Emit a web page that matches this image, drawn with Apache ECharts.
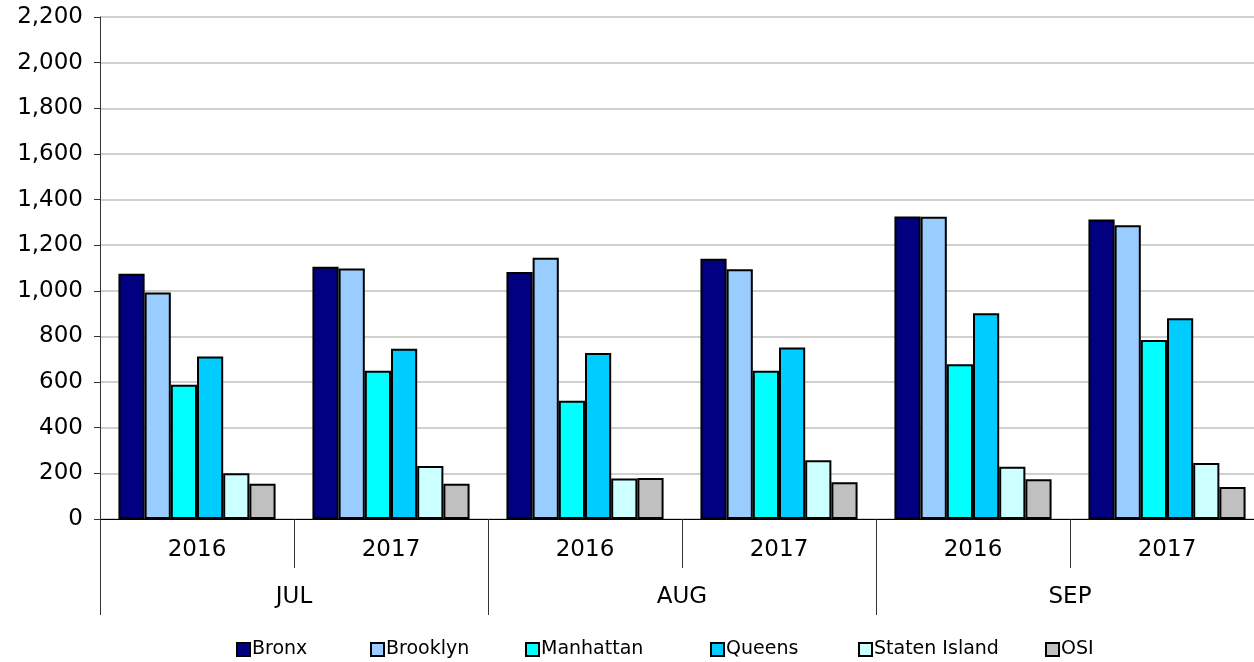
<!DOCTYPE html>
<html>
<head>
<meta charset="utf-8">
<script src="https://cdn.jsdelivr.net/npm/echarts@6/dist/echarts.min.js"></script>
<style>
html,body{margin:0;padding:0;background:#fff;overflow:hidden;width:1254px;height:662px;}
#chart{width:1264px;height:662px;}
</style>
</head>
<body>
<div id="chart"></div>
<script>
const years = ['2016', '2017', '2016', '2017', '2016', '2017'];
const months = ['JUL', 'AUG', 'SEP'];
const yTicks = [0, 200, 400, 600, 800, 1000, 1200, 1400, 1600, 1800, 2000, 2200];
const seriesNames = ['Bronx', 'Brooklyn', 'Manhattan', 'Queens', 'Staten Island', 'OSI'];
const bronx = [1075, 1105, 1082, 1140, 1326, 1313];
const brooklyn = [993, 1098, 1145, 1094, 1325, 1287];
const manhattan = [588, 650, 518, 650, 678, 784];
const queens = [712, 746, 728, 752, 902, 880];
const statenIsland = [200, 232, 178, 257, 229, 245];
const osi = [155, 155, 180, 161, 174, 140];

const values = [bronx, brooklyn, manhattan, queens, statenIsland, osi];
const colors = ['#000080', '#99ccff', '#00ffff', '#00ccff', '#ccffff', '#c0c0c0'];
const legendLeft = [236, 370, 525, 710, 858, 1045];
const FONT = '"DejaVu Sans", "Liberation Sans", sans-serif';

const chart = echarts.init(document.getElementById('chart'));
chart.setOption({
  animation: false,
  backgroundColor: '#ffffff',
  grid: { left: 100, right: 0, top: 17, bottom: 143, containLabel: false },
  legend: seriesNames.map((n, i) => ({
    data: [n],
    left: legendLeft[i],
    top: 640,
    itemWidth: 13,
    itemHeight: 13,
    itemGap: 0,
    padding: 0,
    icon: 'rect',
    textStyle: { fontFamily: FONT, fontSize: 19, color: '#000', padding: [0, 0, 0, -3] }
  })),
  xAxis: [
    {
      type: 'category',
      data: years,
      position: 'bottom',
      axisLine: { show: true, lineStyle: { color: '#000', width: 1 } },
      axisTick: { show: true, length: 49, lineStyle: { color: '#333', width: 1 } },
      axisLabel: { margin: 20, fontFamily: FONT, fontSize: 23, color: '#000' },
      splitLine: { show: false }
    },
    {
      type: 'category',
      data: months,
      position: 'bottom',
      axisLine: { show: false },
      axisTick: { show: true, length: 96, lineStyle: { color: '#333', width: 1 } },
      axisLabel: { margin: 67, fontFamily: FONT, fontSize: 23, color: '#000' },
      splitLine: { show: false }
    }
  ],
  yAxis: {
    type: 'value',
    min: yTicks[0],
    max: yTicks[yTicks.length - 1],
    interval: 200,
    axisLine: { show: true, lineStyle: { color: '#333', width: 1 } },
    axisTick: { show: true, length: 6, lineStyle: { color: '#333' } },
    axisLabel: {
      margin: 17, fontFamily: FONT, fontSize: 23, color: '#000',
      formatter: v => v.toLocaleString('en-US')
    },
    splitLine: { show: true, lineStyle: { color: '#c0c0c0', width: 1.5 } }
  },
  series: seriesNames.map((n, i) => ({
    name: n,
    type: 'bar',
    xAxisIndex: 0,
    data: values[i],
    barGap: '0%',
    barCategoryGap: '19%',
    itemStyle: { color: colors[i], borderColor: '#000', borderWidth: 2 }
  }))
});
</script>
</body>
</html>
